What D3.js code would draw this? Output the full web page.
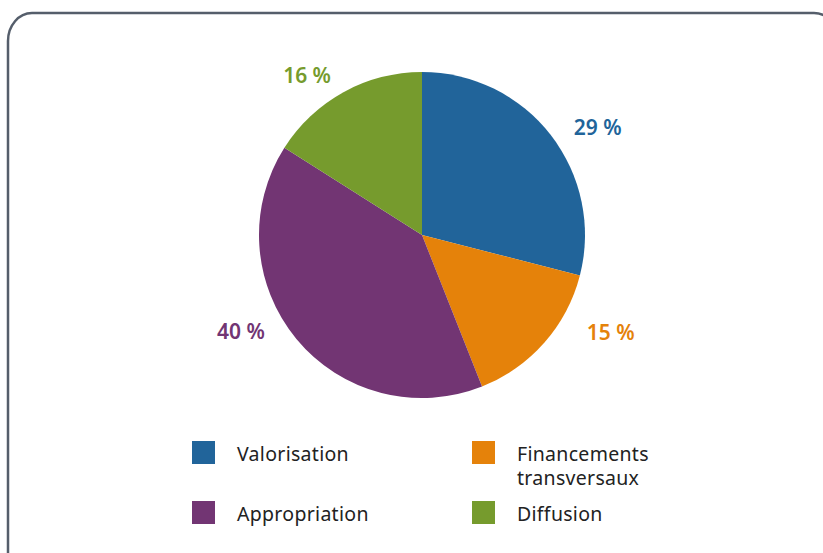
<!doctype html>
<html>
<head>
<meta charset="utf-8">
<script src="https://d3js.org/d3.v7.min.js"></script>
<style>
  body { margin: 0; background: #fff; }
  svg { display: block; }
</style>
</head>
<body>
<script>
// data
var categories = ["Valorisation", "Financements transversaux", "Appropriation", "Diffusion"];
var shares = [29, 15, 40, 16];
var colors = ["#21649a", "#e5820a", "#723573", "#769b2d"];
var legendLines = [["Valorisation"], ["Financements", "transversaux"], ["Appropriation"], ["Diffusion"]];

var width = 823, height = 553;
var cx = 422, cy = 235, radius = 163;
var font = "'Noto Sans', sans-serif";

var svg = d3.select("body").append("svg")
  .attr("width", width)
  .attr("height", height);

// frame (runs off the right and bottom edges)
svg.append("rect")
  .attr("x", 8).attr("y", 13)
  .attr("width", 830).attr("height", 570)
  .attr("rx", 24).attr("ry", 28)
  .attr("fill", "none")
  .attr("stroke", "#555e6b")
  .attr("stroke-width", 2.5);

var data = categories.map(function (c, i) { return { name: c, value: shares[i], color: colors[i] }; });

var pie = d3.pie().sort(null).value(function (d) { return d.value; });
var arcs = pie(data);

var arc = d3.arc().innerRadius(0).outerRadius(radius);

var g = svg.append("g").attr("transform", "translate(" + cx + "," + cy + ")");

g.selectAll("path.slice")
  .data(arcs)
  .enter().append("path")
  .attr("class", "slice")
  .attr("d", arc)
  .attr("fill", function (d) { return d.data.color; });

// labels sit around the pie, nudged a bit off the slice middle like the original
var labelR = [206, 212, 205, 197];
var nudge = [6.3, -14.3, 11.6, -6.9]; // degrees
function labelAngle(d, i) { return (d.startAngle + d.endAngle) / 2 + nudge[i] * Math.PI / 180; }
g.selectAll("text.pct")
  .data(arcs)
  .enter().append("text")
  .attr("class", "pct")
  .attr("x", function (d, i) { return labelR[i] * Math.sin(labelAngle(d, i)); })
  .attr("y", function (d, i) { return -labelR[i] * Math.cos(labelAngle(d, i)); })
  .attr("text-anchor", "middle")
  .attr("dominant-baseline", "central")
  .attr("font-family", font)
  .attr("font-weight", 600)
  .attr("font-size", 21)
  .attr("fill", function (d) { return d.data.color; })
  .text(function (d) { return d.data.value + " %"; });

// legend, 2 columns
var legend = svg.append("g");
var colX = [192, 472], rowY = [441, 501];
var item = legend.selectAll("g.item")
  .data(data)
  .enter().append("g")
  .attr("class", "item")
  .attr("transform", function (d, i) { return "translate(" + colX[i % 2] + "," + rowY[Math.floor(i / 2)] + ")"; });

item.append("rect")
  .attr("width", 23).attr("height", 23)
  .attr("fill", function (d) { return d.color; });

item.each(function (d, i) {
  var t = d3.select(this).append("text")
    .attr("x", 45)
    .attr("y", 20)
    .attr("font-family", font)
    .attr("font-size", 19.5)
    .attr("letter-spacing", 0.3)
    .attr("fill", "#222");
  legendLines[i].forEach(function (line, k) {
    t.append("tspan").attr("x", 45).attr("dy", k === 0 ? 0 : 24).text(line);
  });
});
</script>
</body>
</html>
